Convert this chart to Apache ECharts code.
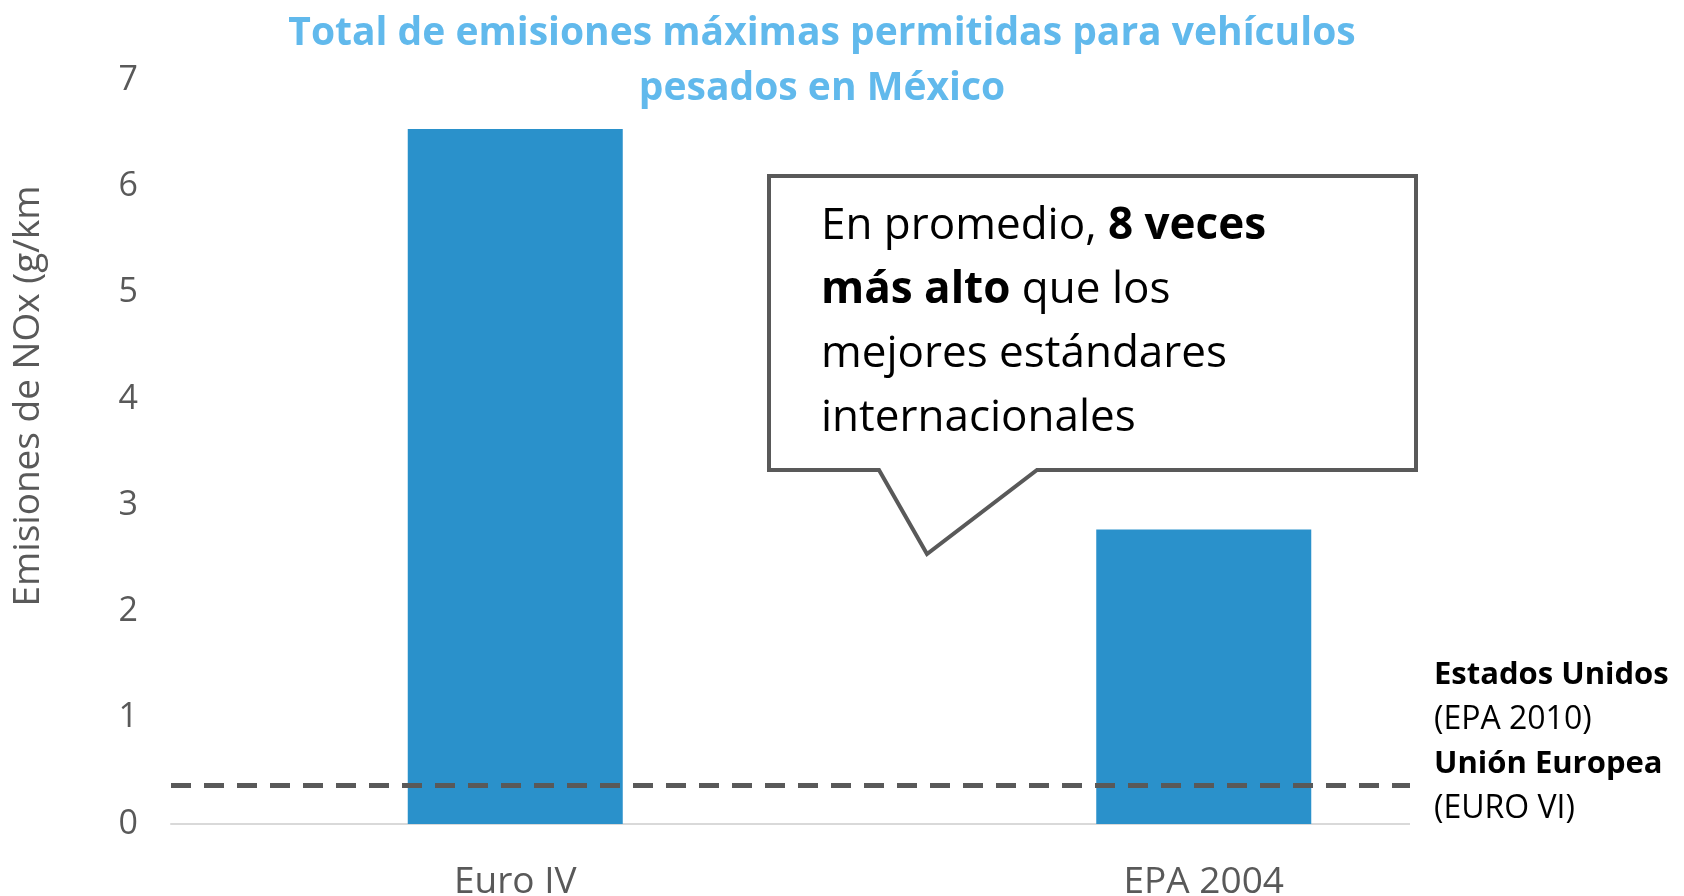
<!DOCTYPE html>
<html>
<head>
<meta charset="utf-8">
<title>Emisiones NOx vehículos pesados</title>
<script src="https://cdn.jsdelivr.net/npm/echarts@6/dist/echarts.min.js"></script>
<style>
  html, body { margin: 0; padding: 0; background: #fff; }
  #chart { width: 1684px; height: 896px; }
</style>
</head>
<body>
<div id="chart"></div>
<script>
// data
const categories = ['Euro IV', 'EPA 2004'];
const noxValues = [6.54, 2.77];
const bestStandard = 0.36; // EPA 2010 / EURO VI
const yMin = 0;
const yMax = 7;
const yStep = 1;

const titleText = 'Total de emisiones máximas permitidas para vehículos\npesados en México';
const axisName = 'Emisiones de NOx (g/km';
const calloutText = '{n|En promedio, }{b|8 veces}\n{b|más alto}{n| que los}\n{n|mejores estándares}\n{n|internacionales}';
const refText = '{b|Estados Unidos}\n{n|(EPA 2010)}\n{b|Unión Europea}\n{n|(EURO VI)}';

const font = '"Open Sans", "Noto Sans", sans-serif';
const grey = '#595959';
const dark = '#404040';

const chart = echarts.init(document.getElementById('chart'));

const option = {
  backgroundColor: '#fff',
  animation: false,
  title: {
    text: titleText,
    left: 817,
    top: 1,
    textAlign: 'center',
    textStyle: {
      fontFamily: font,
      fontSize: 39,
      fontWeight: 'bold',
      color: '#61b9ec',
      lineHeight: 55
    }
  },
  grid: {
    left: 171,
    right: 136,
    top: 80,
    bottom: 72,
    outerBoundsMode: 'none'
  },
  xAxis: {
    type: 'category',
    data: categories,
    axisTick: { show: false },
    axisLine: { lineStyle: { color: '#d9d9d9', width: 2 } },
    axisLabel: {
      margin: 40,
      fontFamily: font,
      fontSize: 37,
      color: grey
    }
  },
  yAxis: {
    type: 'value',
    min: yMin,
    max: yMax,
    interval: yStep,
    splitLine: { show: false },
    axisLine: { show: false },
    axisTick: { show: false },
    axisLabel: {
      margin: 33,
      fontFamily: font,
      fontSize: 34,
      color: grey
    },
    name: axisName,
    nameLocation: 'middle',
    nameRotate: 90,
    nameGap: 124,
    nameTextStyle: {
      fontFamily: font,
      fontSize: 37,
      color: grey,
      padding: [0, 0, 0, 112]
    }
  },
  series: [
    {
      name: 'NOx',
      type: 'bar',
      data: noxValues,
      barWidth: 215,
      itemStyle: { color: '#2a91cb' },
      markLine: {
        silent: true,
        symbol: 'none',
        label: { show: false },
        lineStyle: { color: grey, width: 5, type: [20, 13] },
        data: [{ yAxis: bestStandard }]
      }
    }
  ],
  graphic: [
    // speech bubble
    {
      type: 'polygon',
      z: 50,
      shape: {
        points: [[769, 176], [1416, 176], [1416, 470], [1037, 470], [927, 554], [879, 470], [769, 470]]
      },
      style: { fill: '#fff', stroke: grey, lineWidth: 4 }
    },
    {
      type: 'text',
      z: 51,
      x: 821,
      y: 194,
      style: {
        text: calloutText,
        rich: {
          n: { fontFamily: font, fontSize: 44, color: dark, lineHeight: 64 },
          b: { fontFamily: font, fontSize: 44, fontWeight: 'bold', color: dark, lineHeight: 64 }
        }
      }
    },
    // white box holding the reference-line labels, over the plot edge
    {
      type: 'rect',
      z: 50,
      shape: { x: 1410, y: 600, width: 274, height: 240 },
      style: { fill: '#fff' }
    },
    {
      type: 'text',
      z: 51,
      x: 1434,
      y: 653,
      style: {
        text: refText,
        rich: {
          n: { fontFamily: font, fontSize: 32, color: dark, lineHeight: 44.5 },
          b: { fontFamily: font, fontSize: 31, fontWeight: 'bold', color: dark, lineHeight: 44.5 }
        }
      }
    }
  ]
};

chart.setOption(option);
</script>
</body>
</html>
